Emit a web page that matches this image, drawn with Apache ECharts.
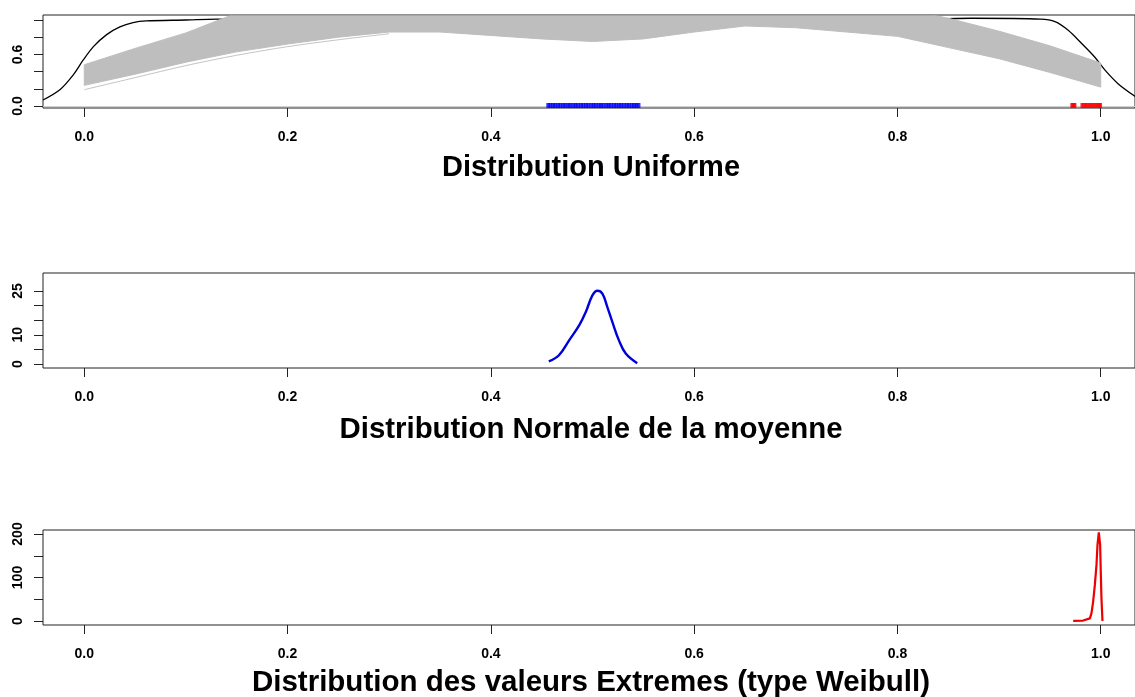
<!DOCTYPE html>
<html>
<head>
<meta charset="utf-8">
<script src="https://cdn.jsdelivr.net/npm/echarts@6/dist/echarts.min.js"></script>
<style>html,body{margin:0;padding:0;background:#fff}#c{width:1135px;height:697px}</style>
</head>
<body>
<div id="c"></div>
<script>
// ---- data ----
const xTicks = [0, 0.2, 0.4, 0.6, 0.8, 1.0];
const topYTicks = [0, 0.2, 0.4, 0.6, 0.8, 1.0];
const topYLabels = [0, 0.6];
const midYTicks = [0, 5, 10, 15, 20, 25];
const midYLabels = [0, 10, 25];
const botYTicks = [0, 50, 100, 150, 200];
const botYLabels = [0, 100, 200];

const titles = ["Distribution Uniforme", "Distribution Normale de la moyenne", "Distribution des valeurs Extremes (type Weibull)"];

// black density of the uniform sample
const blackX = [-0.0406, -0.024, -0.011, -0.001, 0.009, 0.022, 0.035, 0.048, 0.061, 0.1, 0.13, 0.2, 0.3, 0.4, 0.5, 0.6, 0.7, 0.8, 0.873, 0.941, 0.955, 0.968, 0.981, 0.994, 1.004, 1.017, 1.034];
const blackY = [0.07, 0.19, 0.36, 0.535, 0.69, 0.83, 0.92, 0.97, 0.99, 1.0, 1.01, 1.0, 1.0, 1.01, 1.0, 1.0, 1.01, 1.0, 1.02, 1.01, 0.98, 0.88, 0.73, 0.57, 0.42, 0.26, 0.11];

// gray band of sample densities (lower and upper envelope)
const bandX = [0, 0.05, 0.1, 0.15, 0.2, 0.25, 0.3, 0.35, 0.4, 0.45, 0.5, 0.55, 0.6, 0.65, 0.7, 0.75, 0.8, 0.85, 0.9, 0.95, 1.0];
const bandLower = [0.24, 0.37, 0.51, 0.63, 0.72, 0.80, 0.86, 0.86, 0.82, 0.78, 0.75, 0.78, 0.86, 0.93, 0.91, 0.86, 0.81, 0.68, 0.55, 0.39, 0.22];
const bandUpper = [0.48, 0.67, 0.85, 1.08, 1.2, 1.3, 1.35, 1.35, 1.3, 1.25, 1.25, 1.3, 1.35, 1.35, 1.3, 1.25, 1.15, 1.02, 0.87, 0.7, 0.5];
const outlierX = [0, 0.05, 0.1, 0.15, 0.2, 0.25, 0.3];
const outlierY = [0.19, 0.33, 0.47, 0.59, 0.69, 0.77, 0.84];

// rugs
const blueRug = [0.4565, 0.4585, 0.4612, 0.4633, 0.4661, 0.4684, 0.4712, 0.4733, 0.4762, 0.4781, 0.4812, 0.4834, 0.4858, 0.4887, 0.4909, 0.4936, 0.4958, 0.4987, 0.5011, 0.5033, 0.5062, 0.5084, 0.5108, 0.5137, 0.5159, 0.5183, 0.5212, 0.5234, 0.5261, 0.5283, 0.5309, 0.5336, 0.5358, 0.5386, 0.5408, 0.5432, 0.5452];
const redRug = [0.9715, 0.9726, 0.9738, 0.9746, 0.9815, 0.9829, 0.9846, 0.9858, 0.9874, 0.9891, 0.9904, 0.9921, 0.9934, 0.9951, 0.9963, 0.9979, 0.9989, 0.9998];

// density of the mean
const meanX = [0.457, 0.467, 0.477, 0.487, 0.4934, 0.4999, 0.5048, 0.5097, 0.5146, 0.5195, 0.526, 0.5327, 0.5440];
const meanY = [0.9, 3.0, 8.1, 13.3, 17.8, 23.5, 25.1, 24.1, 19.5, 14.4, 8.1, 3.6, 0.3];

// density of the maximum
const maxX = [0.9729, 0.9827, 0.9893, 0.9909, 0.9925, 0.9942, 0.9958, 0.9968, 0.9981, 0.9994, 1.0001, 1.0007, 1.0017];
const maxY = [0.5, 1, 6, 18, 44, 83, 129, 175, 204, 175, 106, 52, 0];

// ---- chart ----
const pair = (xs, ys) => xs.map((x, i) => [x, ys[i]]);
const FONT = 'Liberation Sans';
const INK = '#222';
const XMIN = -0.0406, XMAX = 1.0337;

function grid(top, h) {
  return {left: 43, top: top, width: 1094, height: h, show: true, borderColor: INK, borderWidth: 1, backgroundColor: 'transparent'};
}
function xAxis(i) {
  return {
    type: 'value', gridIndex: i, min: XMIN, max: XMAX,
    axisLine: {show: false, onZero: false}, splitLine: {show: false},
    axisTick: {show: true, length: 9, lineStyle: {color: INK}, customValues: xTicks},
    axisLabel: {customValues: xTicks, margin: 22, fontFamily: FONT, fontWeight: 'bold', fontSize: 14, color: '#000',
      formatter: v => v.toFixed(1)}
  };
}
function yAxis(i, mn, mx, ticks, labels, fmt) {
  return {
    type: 'value', gridIndex: i, min: mn, max: mx,
    axisLine: {show: false, onZero: false}, splitLine: {show: false},
    axisTick: {show: true, length: 9, lineStyle: {color: INK}, customValues: ticks},
    axisLabel: {customValues: labels, rotate: 90, margin: 18, fontFamily: FONT, fontWeight: 'bold', fontSize: 14, color: '#000',
      formatter: fmt}
  };
}
const titleTops = [153, 415, 668];
const titleSizes = [29, 29.4, 29.5];

// band drawn as one polygon through the axis scales, clipped to the plot box
function renderBand(params, api) {
  if (params.dataIndex !== 0) return null;
  const cs = params.coordSys;
  const pts = [];
  for (let i = 0; i < bandX.length; i++) pts.push(api.coord([bandX[i], bandUpper[i]]));
  for (let i = bandX.length - 1; i >= 0; i--) pts.push(api.coord([bandX[i], bandLower[i]]));
  return {
    type: 'group',
    clipPath: {type: 'rect', shape: {x: cs.x, y: cs.y + 0.5, width: cs.width, height: cs.height}},
    children: [{
      type: 'polygon',
      shape: {points: pts, smooth: 0},
      style: {fill: '#bebebe', stroke: '#bebebe', lineWidth: 1}
    }]
  };
}

const option = {
  animation: false,
  backgroundColor: '#fff',
  title: titles.map((t, i) => ({
    text: t, left: 591, top: titleTops[i], textAlign: 'center', padding: 0,
    textStyle: {fontFamily: FONT, fontWeight: 'bold', fontSize: titleSizes[i], lineHeight: 30, color: '#000'}
  })),
  grid: [grid(15, 93), grid(273, 95), grid(530, 95)],
  xAxis: [xAxis(0), xAxis(1), xAxis(2)],
  yAxis: [
    yAxis(0, -0.023, 1.058, topYTicks, topYLabels, v => v.toFixed(1)),
    yAxis(1, -1.35, 31.15, midYTicks, midYLabels, v => String(v)),
    yAxis(2, -9.2, 209.2, botYTicks, botYLabels, v => String(v))
  ],
  series: [
    {
      type: 'line', xAxisIndex: 0, yAxisIndex: 0, data: pair(blackX, blackY),
      showSymbol: false, symbol: 'none', smooth: 0.3,
      lineStyle: {color: '#000', width: 1.3}, z: 2,
      markLine: {silent: true, symbol: 'none', label: {show: false},
        lineStyle: {color: '#cfcfcf', width: 1, type: 'solid'}, data: [{yAxis: 0}]}
    },
    {
      type: 'custom', xAxisIndex: 0, yAxisIndex: 0, renderItem: renderBand,
      data: bandX.map((x, i) => [x, bandLower[i], bandUpper[i]]), z: 3, silent: true
    },
    {
      type: 'line', xAxisIndex: 0, yAxisIndex: 0, data: pair(outlierX, outlierY),
      symbol: 'none', smooth: 0.3, lineStyle: {color: '#c4c4c4', width: 1}, z: 3
    },
    {
      type: 'scatter', xAxisIndex: 0, yAxisIndex: 0, data: blueRug.map(v => [v, 0]),
      symbol: 'rect', symbolSize: [4, 5], symbolOffset: [0, -0.5], itemStyle: {color: '#0000ff'}, z: 5
    },
    {
      type: 'scatter', xAxisIndex: 0, yAxisIndex: 0, data: redRug.map(v => [v, 0]),
      symbol: 'rect', symbolSize: [3, 5], symbolOffset: [0, -0.5], itemStyle: {color: '#ff0000'}, z: 5
    },
    {
      type: 'line', xAxisIndex: 1, yAxisIndex: 1, data: pair(meanX, meanY),
      symbol: 'none', smooth: 0.4, lineStyle: {color: '#0000d8', width: 2.4}
    },
    {
      type: 'line', xAxisIndex: 2, yAxisIndex: 2, data: pair(maxX, maxY),
      symbol: 'none', smooth: false, lineStyle: {color: '#ee0000', width: 2.2}
    }
  ]
};
const chart = echarts.init(document.getElementById('c'), null, {renderer: 'canvas'});
chart.setOption(option);
</script>
</body>
</html>
